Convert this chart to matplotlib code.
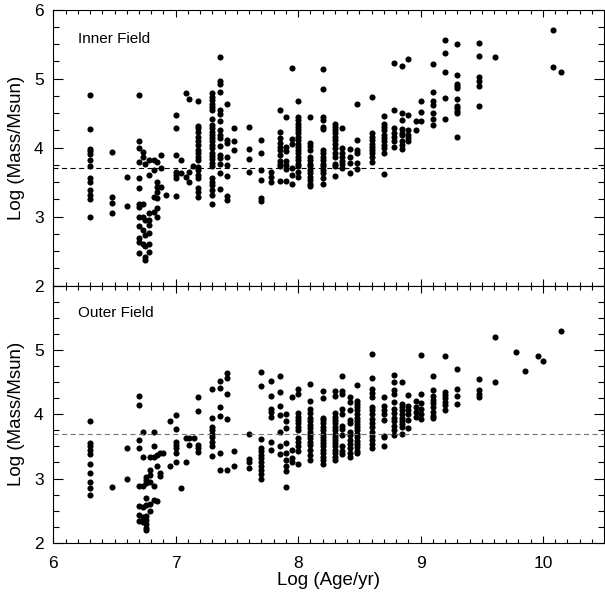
import numpy as np
import matplotlib.pyplot as plt

plt.rcParams['font.family'] = ['Liberation Sans', 'DejaVu Sans']

# Inner field: log age columns and the log masses found in each column
inner_age = [6.30, 6.48, 6.60, 6.70, 6.73, 6.75, 6.78, 6.82, 6.85, 6.88, 6.92,
             7.00, 7.04, 7.08, 7.11, 7.14, 7.18, 7.30, 7.36, 7.42, 7.48, 7.60,
             7.70, 7.78, 7.85, 7.90, 7.95, 8.00, 8.10, 8.20, 8.30, 8.36, 8.42,
             8.48, 8.60, 8.70, 8.78, 8.85, 8.90, 8.96, 9.00, 9.10, 9.20, 9.30,
             9.48, 9.61, 10.08, 10.15]
inner_mass = [
    [4.76, 4.27, 3.98, 3.95, 3.91, 3.82, 3.74, 3.56, 3.51, 3.38, 3.31, 3.25, 3.00],
    [3.94, 3.29, 3.20, 3.06],
    [3.58, 3.16],
    [4.76, 4.09, 4.00, 3.80, 3.56, 3.41, 3.19, 3.14, 3.00, 2.86, 2.69, 2.64, 2.48],
    [3.94, 3.87, 3.18, 3.00, 2.81, 2.61],
    [3.77, 2.95, 2.73, 2.57, 2.42, 2.37],
    [3.82, 3.60, 3.05, 2.95, 2.88, 2.76, 2.61, 2.49],
    [3.82, 3.68, 3.29, 3.07],
    [3.80, 3.51, 3.43, 3.36, 3.27, 3.12, 3.00],
    [3.90, 3.71, 3.43],
    [3.31],
    [4.48, 4.29, 3.89, 3.65, 3.60, 3.56, 3.30],
    [3.82, 3.63],
    [4.79, 3.58],
    [4.70, 3.65, 3.51],
    [3.73],
    [4.67, 4.31, 4.28, 4.23, 4.16, 4.09, 4.04, 3.97, 3.92, 3.87, 3.82, 3.72,
     3.68, 3.60, 3.56, 3.41, 3.36, 3.29],
    [4.79, 4.74, 4.69, 4.64, 4.59, 4.54, 4.41, 4.33, 4.28, 4.23, 4.18, 4.14,
     4.09, 4.04, 3.99, 3.93, 3.88, 3.83, 3.78, 3.74, 3.56, 3.51, 3.46, 3.39,
     3.31, 3.19],
    [5.32, 4.96, 4.92, 4.81, 4.55, 4.49, 4.38, 4.26, 4.18, 4.14, 4.02, 3.89,
     3.85, 3.76, 3.64, 3.40],
    [4.64, 4.11, 4.07, 3.87, 3.75, 3.59, 3.30, 3.24],
    [4.29, 4.09, 3.96],
    [4.30, 3.98, 3.83, 3.65],
    [4.11, 3.93, 3.68, 3.53, 3.27, 3.23],
    [3.65, 3.58, 3.51],
    [4.54, 4.23, 4.14, 4.07, 4.01, 3.97, 3.89, 3.81, 3.76, 3.73, 3.52],
    [4.45, 4.01, 3.95, 3.81, 3.75, 3.69, 3.52],
    [5.15, 4.12, 4.05, 3.70, 3.60, 3.48],
    [4.67, 4.44, 4.40, 4.35, 4.30, 4.26, 4.21, 4.16, 4.11, 4.06, 4.01, 3.97,
     3.92, 3.87, 3.82, 3.77, 3.73, 3.65, 3.58],
    [4.45, 4.07, 4.02, 3.96, 3.87, 3.82, 3.77, 3.73, 3.68, 3.63, 3.58, 3.53,
     3.48, 3.44],
    [5.14, 4.85, 4.44, 4.40, 4.30, 4.27, 3.97, 3.92, 3.87, 3.82, 3.77, 3.73,
     3.68, 3.63, 3.56, 3.48],
    [4.35, 4.30, 4.26, 4.21, 4.16, 4.11, 4.05, 3.99, 3.93, 3.87, 3.77, 3.73, 3.59],
    [4.28, 3.99, 3.92, 3.87, 3.81, 3.76, 3.70],
    [3.98, 3.87, 3.78, 3.63],
    [4.64, 4.11, 3.96, 3.93, 3.78, 3.69],
    [4.74, 4.21, 4.16, 4.11, 4.06, 4.01, 3.97, 3.92, 3.86, 3.80],
    [4.46, 4.34, 4.30, 4.25, 4.18, 4.14, 4.09, 4.04, 3.99, 3.93, 3.62],
    [5.23, 4.54, 4.28, 4.21, 4.16, 4.09, 4.01],
    [5.18, 4.51, 4.40, 4.27, 4.22, 4.18, 4.09, 4.04, 3.98],
    [5.28, 4.47, 4.25, 4.18, 4.14, 4.09],
    [4.38, 4.25],
    [4.67, 4.52, 4.38],
    [5.21, 4.81, 4.67, 4.62, 4.50, 4.41, 4.33],
    [5.56, 5.37, 5.09, 4.72, 4.41],
    [5.51, 5.05, 4.93, 4.89, 4.86, 4.70, 4.60, 4.57, 4.53, 4.50, 4.16],
    [5.52, 5.33, 5.02, 4.97, 4.89, 4.61],
    [5.31],
    [5.71, 5.17],
    [5.09],
]

# Outer field
outer_age = [6.30, 6.48, 6.60, 6.70, 6.73, 6.76, 6.79, 6.82, 6.85, 6.87, 6.90,
             6.95, 7.00, 7.04, 7.08, 7.11, 7.15, 7.18, 7.30, 7.36, 7.42, 7.48,
             7.60, 7.70, 7.78, 7.85, 7.90, 7.95, 8.00, 8.10, 8.20, 8.30, 8.36,
             8.42, 8.48, 8.60, 8.70, 8.78, 8.85, 8.90, 8.96, 9.00, 9.10, 9.20,
             9.30, 9.48, 9.61, 9.78, 9.85, 9.96, 10.00, 10.15]
outer_mass = [
    [3.90, 3.56, 3.50, 3.45, 3.38, 3.23, 3.08, 2.95, 2.85, 2.75],
    [2.87],
    [3.48, 3.00],
    [4.29, 4.15, 3.60, 3.47, 2.89, 2.57, 2.43, 2.34],
    [3.73, 3.34, 2.89, 2.56, 2.40, 2.33],
    [3.03, 2.98, 2.93, 2.69, 2.59, 2.41, 2.35, 2.29, 2.23, 2.19],
    [3.34, 3.14, 3.06, 2.95, 2.61, 2.50],
    [3.73, 3.51, 3.34, 2.89, 2.67],
    [3.37, 3.19, 2.65],
    [3.39, 3.08, 3.04],
    [3.39],
    [3.90, 3.19],
    [3.99, 3.77, 3.57, 3.52, 3.47, 3.40, 3.25],
    [2.85],
    [3.63, 3.26],
    [3.63, 3.52],
    [3.63],
    [4.27, 4.05, 3.52, 3.47, 3.42],
    [4.40, 3.94, 3.81, 3.76, 3.70, 3.65, 3.57, 3.51, 3.35],
    [4.52, 4.41, 4.12, 3.97, 3.39, 3.14],
    [4.65, 4.56, 4.32, 3.92, 3.13],
    [3.43, 3.20],
    [3.70, 3.30, 3.25, 3.16],
    [4.66, 4.44, 3.61, 3.48, 3.43, 3.37, 3.32, 3.26, 3.20, 3.13, 3.07, 3.00],
    [4.52, 4.29, 4.08, 4.03, 3.96, 3.57, 3.45],
    [4.59, 4.35, 4.13, 3.99, 3.73, 3.50, 3.38],
    [4.00, 3.90, 3.78, 3.55, 3.39, 3.29, 3.19, 3.11, 2.87],
    [4.27, 3.45, 3.32, 3.26],
    [4.40, 4.32, 4.02, 3.96, 3.91, 3.86, 3.81, 3.76, 3.63, 3.57, 3.51, 3.43, 3.23],
    [4.47, 4.21, 4.09, 4.02, 3.94, 3.89, 3.83, 3.78, 3.73, 3.68, 3.63, 3.57,
     3.52, 3.45, 3.37, 3.29],
    [4.37, 4.25, 3.95, 3.91, 3.86, 3.81, 3.76, 3.70, 3.65, 3.60, 3.55, 3.50,
     3.45, 3.39, 3.34, 3.29, 3.23],
    [4.36, 4.28, 4.02, 3.96, 3.91, 3.86, 3.81, 3.76, 3.70, 3.65, 3.60, 3.55,
     3.50, 3.45, 3.39, 3.33, 3.29],
    [4.60, 4.37, 4.32, 4.09, 4.01, 3.82, 3.77, 3.68, 3.50, 3.43, 3.38],
    [4.27, 4.20, 4.06, 3.91, 3.86, 3.73, 3.68, 3.60, 3.54, 3.47, 3.39, 3.33],
    [4.45, 4.21, 4.16, 4.11, 4.06, 4.01, 3.95, 3.90, 3.85, 3.80, 3.75, 3.69,
     3.64, 3.59, 3.54, 3.49, 3.43, 3.39],
    [4.94, 4.56, 4.39, 4.34, 4.27, 4.11, 4.06, 4.00, 3.92, 3.86, 3.80, 3.73,
     3.66, 3.60, 3.54, 3.47],
    [4.27, 4.13, 4.07, 4.00, 3.91, 3.66, 3.64, 3.50],
    [4.61, 4.50, 4.38, 4.32, 4.20, 4.08, 4.02, 3.95, 3.89, 3.82, 3.75, 3.68],
    [4.50, 4.16, 4.11, 4.06, 4.01, 3.95, 3.90, 3.85, 3.80, 3.70],
    [4.30, 4.13, 4.07, 4.01, 3.91, 3.78],
    [4.21, 4.12, 4.04, 3.96],
    [4.93, 4.32, 4.17, 4.08, 4.01, 3.93],
    [4.59, 4.38, 4.29, 4.23, 4.17, 4.12, 4.03, 3.97, 3.94],
    [4.91, 4.35, 4.30, 4.25, 4.20, 4.15, 4.07],
    [4.71, 4.40, 4.28, 4.16],
    [4.55, 4.38, 4.31, 4.27],
    [5.20, 4.51],
    [4.97],
    [4.68],
    [4.91],
    [4.83],
    [5.30],
]

mass_limit = 3.7


def flatten(ages, masses):
    x = np.repeat(ages, [len(m) for m in masses])
    y = np.concatenate([np.array(m) for m in masses])
    return x, y


fig = plt.figure(figsize=(6.05, 5.92), dpi=100)
ax_top = fig.add_axes([0.0881, 0.5174, 0.9105, 0.4662])
ax_bot = fig.add_axes([0.0881, 0.0833, 0.9105, 0.4336])

panels = [(ax_top, inner_age, inner_mass, 'Inner Field', 'black'),
          (ax_bot, outer_age, outer_mass, 'Outer Field', '0.45')]

for ax, ages, masses, name, dash_col in panels:
    x, y = flatten(ages, masses)
    ax.plot(x, y, 'o', color='black', markersize=4.4, markeredgewidth=0)
    ax.axhline(mass_limit, color=dash_col, linewidth=0.8, dashes=(4.5, 3.2))
    ax.text(0.045, 0.894, name, transform=ax.transAxes, fontsize=11,
            ha='left', va='center')
    ax.set_xlim(6, 10.5)
    ax.set_ylim(2, 6)
    ax.set_xticks([6, 7, 8, 9, 10])
    ax.set_xticks(np.arange(6, 10.5, 0.1), minor=True)
    ax.set_yticks([2, 3, 4, 5, 6])
    ax.set_yticks(np.arange(2, 6.01, 0.25), minor=True)
    ax.tick_params(which='both', direction='in', top=True, right=True,
                   labelsize=12.5, width=0.8)
    ax.tick_params(axis='y', which='major', length=7.5, pad=7)
    ax.tick_params(axis='y', which='minor', length=4)
    ax.tick_params(axis='x', which='major', length=5, pad=9.5)
    ax.tick_params(axis='x', which='minor', length=3)
    ax.set_ylabel('Log (Mass/Msun)', fontsize=13.5)
    ax.yaxis.set_label_coords(-0.051, 0.5)
    for s in ax.spines.values():
        s.set_linewidth(0.8)

ax_top.tick_params(labelbottom=False)
ax_bot.set_yticklabels(['2', '3', '4', '5', ''])
ax_bot.set_xlabel('Log (Age/yr)', fontsize=13.5, labelpad=1)

plt.savefig('out.png', dpi=100)
